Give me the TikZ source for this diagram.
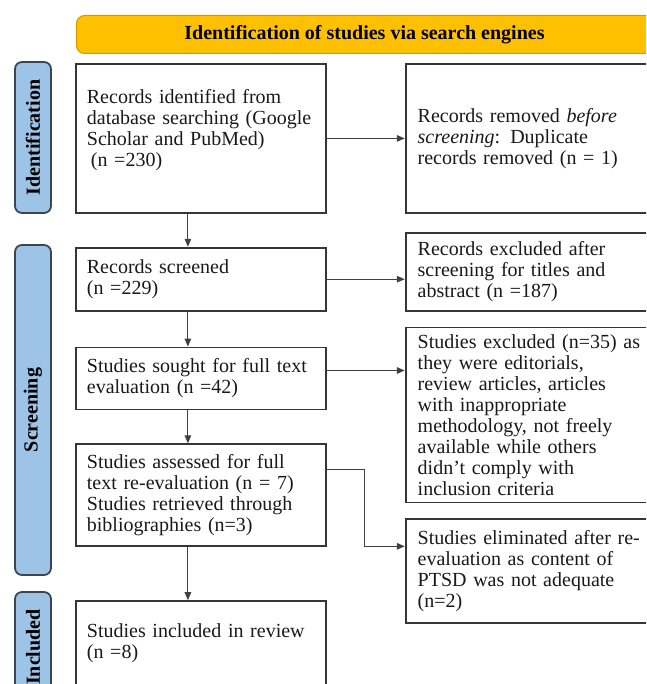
\documentclass[tikz,border=0pt]{standalone}
\usepackage{fontspec}
\setmainfont{Liberation Serif}
\usetikzlibrary{positioning, arrows.meta}
\definecolor{bannergold}{HTML}{FFC000}
\definecolor{bannerline}{HTML}{D49A00}
\definecolor{tabblue}{HTML}{9DC3E6}
\definecolor{tabline}{HTML}{3B4652}
\definecolor{boxline}{HTML}{363636}

\begin{document}
\begin{tikzpicture}[x=1pt, y=-1pt,
  box/.style={draw=boxline, line width=1.8pt, text width=228pt, inner xsep=11pt, inner ysep=2pt, align=left, font=\fontsize{20}{21}\selectfont, text=black!90},
  side/.style={box, text width=246pt, inner xsep=12pt},
  tab/.style={draw=tabline, line width=1.8pt, fill=tabblue, rounded corners=7pt, rotate=90, minimum height=36pt, inner sep=0pt, font=\bfseries\fontsize{20}{21}\selectfont},
  banner/.style={draw=bannerline, line width=1pt, fill=bannergold, rounded corners=8pt, minimum width=576pt, minimum height=38pt, font=\bfseries\fontsize{20}{21}\selectfont},
  arr/.style={-{Triangle[length=8pt, width=6.5pt]}, line width=1.1pt, draw=black!75},
]
  \useasboundingbox (0,0) rectangle (646,684);
  \clip (0,0) rectangle (646,684);

  % header and phase tabs
  \node[banner, anchor=north west] (banner) at (76,15) {Identification of studies via search engines};
  \node[tab, minimum width=151pt] (idtab) at (33,137.5) {Identification};
  \node[tab, minimum width=330pt] (scrtab) at (33,410) {Screening};
  \node[tab, minimum width=110pt] (inctab) at (33,647) {Included};

  % main column
  \node[box, minimum height=149pt, anchor=north west] (ident) at (75,63) {Records identified from\\ database searching (Google\\ Scholar and PubMed)\\ \hspace{4pt}(n =230)\\ \mbox{}};
  \node[box, minimum height=63pt, below=33pt of ident] (screened) {Records screened\\ (n =229)};
  \node[box, minimum height=62pt, below=35pt of screened] (sought) {Studies sought for full text\\ evaluation (n =42)};
  \node[box, minimum height=102pt, below=33pt of sought] (assessed) {Studies assessed for full\\ text re-evaluation (n = 7)\\ Studies retrieved through\\ bibliographies (n=3)};
  \node[box, minimum height=85pt, below=53pt of assessed] (included) {Studies included in review\\ (n =8)};

  % exclusion column
  \node[side, minimum height=149pt, right=78pt of ident] (removed) {Records removed \textit{before}\\ \textit{screening}: Duplicate\\ records removed (n = 1)};
  \node[side, minimum height=78pt, below=18pt of removed] (excluded) {Records excluded after\\ screening for titles and\\ abstract (n =187)};
  \node[side, minimum height=175pt, below=15pt of excluded] (dropped) {Studies excluded (n=35) as\\ they were editorials,\\ review articles, articles\\ with inappropriate\\ methodology, not freely\\ available while others\\ didn’t comply with\\ inclusion criteria};
  \node[side, minimum height=104pt, below=15pt of dropped] (eliminated) {Studies eliminated after re-\\ evaluation as content of\\ PTSD was not adequate\\ (n=2)};

  \draw[arr] ([xshift=-13pt]ident.south) -- ([xshift=-13pt]screened.north);
  \draw[arr] ([xshift=-13pt]screened.south) -- ([xshift=-13pt]sought.north);
  \draw[arr] ([xshift=-13pt]sought.south) -- ([xshift=-13pt]assessed.north);
  \draw[arr] ([xshift=-13pt]assessed.south) -- ([xshift=-13pt]included.north);

  \draw[arr] (ident) -- (removed);
  \draw[arr] (screened.east) -- (screened.east -| excluded.west);
  \draw[arr] ([yshift=8pt]sought.east) -- ([yshift=8pt]sought.east -| dropped.west);
  \draw[arr] ([yshift=-26pt]assessed.north east) -- ++(38pt,0) |- ([yshift=25pt]eliminated.west);
\end{tikzpicture}
\end{document}
